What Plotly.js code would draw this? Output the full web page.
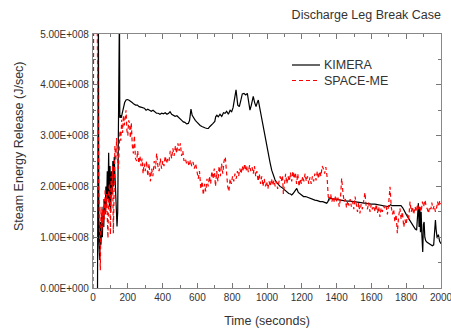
<!DOCTYPE html>
<html>
<head>
<meta charset="utf-8">
<script src="https://cdn.plot.ly/plotly-3.0.1.min.js"></script>
<style>html,body{margin:0;padding:0;background:#fff;}#chart{width:451px;height:331px;}</style>
</head>
<body>
<div id="chart"></div>
<script>
// Time (seconds) and energy release in units of 1e8 J/sec
var kimeraT = [26,28,31,34,38,42,46,50,54,58,62,66,70,74,78,82,86,90,94,98,102,106,110,114,118,122,126,130,134,138,142,146,149,152,154,158,162,168,175,182,190,197,205,215,225,235,245,255,265,275,285,295,305,315,325,335,345,355,365,375,385,395,405,415,425,435,443,452,462,472,482,492,502,510,519,528,538,548,555,563,570,578,588,596,606,616,626,636,646,656,663,672,680,690,700,705,712,720,730,740,750,759,768,778,788,797,805,812,822,832,841,850,858,868,878,887,895,902,910,921,929,937,944,950,958,969,979,989,998,1008,1017,1027,1036,1046,1055,1065,1075,1085,1095,1105,1113,1125,1135,1142,1150,1160,1171,1180,1190,1199,1210,1222,1235,1247,1260,1275,1290,1305,1320,1335,1343,1350,1358,1370,1385,1400,1420,1440,1460,1480,1500,1520,1540,1560,1580,1600,1620,1640,1660,1680,1700,1710,1720,1740,1760,1770,1780,1790,1800,1810,1820,1830,1841,1852,1860,1866,1870,1874,1878,1882,1886,1890,1895,1899,1903,1907,1912,1920,1935,1950,1958,1963,1968,1972,1978,1985,1992,2000];
var kimeraE8 = [0,5.5,5.5,0.9,0.55,1.3,0.85,1.4,1.0,1.6,1.2,1.75,1.45,2.0,1.6,2.3,1.75,2.66,1.6,2.4,1.5,2.3,1.85,2.5,2.0,2.58,2.25,1.6,1.25,1.21,1.5,3.2,5.5,5.5,3.35,3.4,3.35,3.45,3.55,3.65,3.7,3.71,3.7,3.68,3.65,3.62,3.6,3.6,3.57,3.56,3.55,3.54,3.5,3.52,3.5,3.48,3.5,3.47,3.44,3.44,3.42,3.44,3.43,3.45,3.42,3.44,3.47,3.42,3.4,3.38,3.39,3.35,3.33,3.3,3.27,3.26,3.23,3.24,3.3,3.52,3.4,3.35,3.3,3.27,3.23,3.2,3.18,3.16,3.15,3.14,3.14,3.18,3.2,3.24,3.28,3.37,3.4,3.37,3.42,3.38,3.45,3.44,3.48,3.42,3.5,3.47,3.55,3.7,3.9,3.6,3.57,3.7,3.82,3.83,3.8,3.83,3.65,3.5,3.6,3.77,3.65,3.57,3.65,3.7,3.55,3.34,3.15,2.98,2.8,2.65,2.48,2.32,2.22,2.13,2.08,2.03,2.0,1.98,1.95,1.92,1.9,1.86,1.85,1.83,1.86,1.9,1.96,1.88,1.85,1.83,1.8,1.8,1.78,1.77,1.75,1.73,1.72,1.7,1.7,1.68,1.67,1.7,1.77,1.76,1.75,1.75,1.74,1.72,1.71,1.71,1.7,1.68,1.67,1.66,1.66,1.65,1.65,1.64,1.63,1.62,1.6,1.64,1.62,1.62,1.63,1.62,1.58,1.5,1.45,1.39,1.33,1.27,1.21,1.16,1.14,1.45,1.67,1.2,1.6,1.1,1.5,1.05,0.71,1.25,1.3,1.0,0.93,0.9,0.86,0.83,0.85,1.1,1.34,1.15,0.98,1.05,0.92,0.87];

var spaceT = [0,4,22,27,33,38,42,46,50,54,58,62,66,70,74,78,82,86,90,95,100,104,108,112,117,121,126,131,136,141,146,150,155,160,165,170,175,180,185,190,195,200,205,210,215,220,226,232,238,244,251,257,263,270,276,282,288,294,300,308,315,322,330,337,344,352,359,366,373,380,387,394,401,408,415,423,430,437,444,452,459,466,474,481,488,495,502,509,516,523,530,538,545,552,560,567,575,582,590,597,605,612,620,627,634,641,648,655,662,669,676,683,690,697,704,711,718,725,732,739,746,753,760,767,774,781,788,795,802,809,816,823,830,837,844,851,858,865,872,879,886,893,900,907,914,921,928,935,942,949,956,963,970,977,984,991,998,1005,1012,1019,1026,1033,1040,1047,1054,1061,1068,1075,1082,1089,1094,1100,1107,1114,1121,1128,1135,1142,1149,1156,1163,1170,1177,1184,1191,1198,1205,1212,1219,1226,1233,1240,1247,1254,1261,1268,1275,1282,1289,1296,1303,1310,1317,1324,1331,1338,1345,1352,1359,1366,1373,1380,1387,1394,1401,1408,1415,1422,1429,1436,1443,1450,1457,1464,1471,1478,1485,1492,1499,1506,1513,1520,1527,1534,1541,1548,1555,1563,1570,1577,1584,1592,1599,1606,1613,1621,1628,1635,1642,1649,1656,1663,1670,1678,1685,1692,1699,1707,1714,1721,1728,1735,1742,1749,1756,1764,1771,1778,1786,1793,1800,1807,1814,1822,1829,1836,1843,1851,1858,1865,1872,1879,1886,1893,1900,1908,1915,1922,1928,1935,1942,1947,1954,1961,1968,1975,1980,1987,1993,2000];
var spaceE8 = [0,6,6,3.8,2.0,1.0,0.35,1.6,1.1,1.55,1.2,1.75,1.35,1.95,1.5,1.85,1.3,0.98,1.9,2.05,1.05,2.2,1.8,2.4,1.08,2.3,2.8,2.5,2.95,2.55,2.35,2.7,3.1,2.9,3.31,3.05,3.4,3.2,3.45,3.5,3.1,3.0,3.3,3.24,2.95,3.25,2.8,2.65,3.0,2.55,2.5,2.7,2.45,2.6,2.4,2.55,2.25,2.45,2.3,2.5,2.2,2.45,2.1,2.35,2.2,2.5,2.35,2.65,2.4,2.3,2.55,2.35,2.5,2.4,2.6,2.45,2.55,2.5,2.7,2.55,2.75,2.6,2.8,2.65,2.85,2.7,2.85,2.6,2.7,2.5,2.55,2.45,2.5,2.4,2.52,2.4,2.48,2.35,2.45,2.3,2.15,2.3,1.95,2.1,1.83,2.05,1.9,2.15,2.0,2.2,2.05,2.3,2.15,2.35,2.0,2.3,2.1,2.4,2.2,2.45,2.25,2.5,2.58,2.3,2.0,1.9,2.15,2.05,2.2,2.1,2.25,2.15,2.3,2.2,2.35,2.25,2.4,2.3,2.45,2.3,2.4,2.28,2.42,2.3,2.38,2.25,2.4,2.2,2.3,2.1,2.25,2.05,2.2,2.0,2.15,2.0,2.1,1.95,2.1,2.0,2.15,2.02,2.12,2.0,2.1,1.95,2.05,2.2,2.1,2.22,1.85,2.1,2.25,2.05,2.2,2.1,2.27,2.1,2.3,2.15,2.28,2.05,2.25,2.0,2.15,2.05,2.2,2.1,2.25,2.1,2.2,2.05,2.18,2.05,2.2,2.1,2.25,2.12,2.3,2.15,2.3,2.2,2.4,2.35,2.25,2.38,2.2,1.8,1.72,1.85,1.7,1.8,1.68,1.82,1.7,1.78,1.6,1.75,2.16,1.9,1.7,1.75,1.58,1.72,1.62,1.75,1.6,1.7,1.55,1.8,1.6,1.5,1.68,1.47,1.65,1.55,1.7,1.88,1.6,1.55,1.68,1.5,1.65,1.55,1.62,1.5,1.65,1.48,1.6,1.4,1.58,1.5,1.62,1.55,1.6,1.45,1.65,1.99,1.6,1.45,1.55,1.3,1.45,1.08,1.4,1.57,1.35,1.5,1.2,1.35,1.25,1.45,1.35,1.7,1.5,1.6,1.45,1.6,1.5,1.65,1.55,1.6,1.5,1.7,1.6,1.73,1.6,1.55,1.47,1.6,1.55,1.68,1.55,1.62,1.5,1.58,1.7,1.6,1.72,1.65];

var seriesNames = ['KIMERA', 'SPACE-ME'];
var seriesColors = ['#000000', '#ff0000'];
var seriesDash = ['solid', '4px,3px'];
var xTicks = [0,200,400,600,800,1000,1200,1400,1600,1800,2000];
var yTickValsE8 = [0,1,2,3,4,5];
var yTickText = ['0.00E+000','1.00E+008','2.00E+008','3.00E+008','4.00E+008','5.00E+008'];
var chartTitle = 'Discharge Leg Break Case';
var xTitle = 'Time (seconds)';
var yTitle = 'Steam Energy Release (J/sec)';

var scale = 1e8;
function toJ(arr){ return arr.map(function(v){ return v*scale; }); }

var fam = 'Liberation Sans, Arial, sans-serif';
var txtColor = '#333';

var traces = [
  {x: kimeraT, y: toJ(kimeraE8), name: seriesNames[0], type: 'scatter', mode: 'lines',
   line: {color: seriesColors[0], width: 1.2, dash: seriesDash[0]}},
  {x: spaceT, y: toJ(spaceE8), name: seriesNames[1], type: 'scatter', mode: 'lines',
   line: {color: seriesColors[1], width: 1.2, dash: seriesDash[1]}}
];

var axisCommon = {
  showgrid: false, zeroline: false, showline: true, linecolor: '#888', linewidth: 1.2,
  mirror: 'allticks', ticks: 'inside', ticklen: 5, tickcolor: '#777', tickwidth: 1,
  ticklabeloverflow: 'allow',
  tickfont: {family: fam, size: 10, color: txtColor}
};

// Hand-built legend (layout decoration, paper coordinates)
var plotL = 93, plotW = 348, plotB = 288, plotH = 254;
function px(xp){ return (xp - plotL) / plotW; }
function py(yp){ return (plotB - yp) / plotH; }
var legendRows = [65, 80.5];
var shapes = [], annotations = [];
seriesNames.forEach(function(n, i){
  shapes.push({type: 'line', xref: 'paper', yref: 'paper', x0: px(292), x1: px(320),
               y0: py(legendRows[i]), y1: py(legendRows[i]),
               line: {color: seriesColors[i], width: 1.2, dash: seriesDash[i]}});
  annotations.push({text: n, xref: 'paper', yref: 'paper', x: px(322), y: py(legendRows[i]),
                    xanchor: 'left', yanchor: 'middle', showarrow: false,
                    font: {size: 12.5, color: txtColor, family: fam}});
});
annotations.push({text: yTitle, xref: 'paper', yref: 'paper', x: px(19), y: py(146),
     xanchor: 'center', yanchor: 'middle', textangle: -90, showarrow: false,
     font: {size: 12.5, color: txtColor, family: fam}});

var layout = {
  width: 451, height: 331,
  margin: {l: 93, r: 10, t: 34, b: 43},
  paper_bgcolor: '#fff', plot_bgcolor: '#fff',
  font: {family: fam, color: txtColor},
  showlegend: false,
  title: {text: chartTitle, font: {size: 12.5, color: txtColor, family: fam},
          xref: 'paper', x: 1, xanchor: 'right', yref: 'container', y: 1 - 15/331, yanchor: 'middle'},
  xaxis: Object.assign({}, axisCommon, {
    range: [0, 2000], tickvals: xTicks, ticktext: xTicks.map(String),
    minor: {ticks: 'inside', ticklen: 3, dtick: 100, tickcolor: '#777'},
    title: {text: xTitle, font: {size: 12.5, color: txtColor, family: fam}, standoff: 14}
  }),
  yaxis: Object.assign({}, axisCommon, {
    range: [0, 5*scale], tickvals: toJ(yTickValsE8), ticktext: yTickText,
    minor: {ticks: 'inside', ticklen: 3, dtick: 0.5*scale, tickcolor: '#777'},
    ticklabelstandoff: 1
  }),
  shapes: shapes,
  annotations: annotations
};

Plotly.newPlot('chart', traces, layout, {displayModeBar: false, staticPlot: true});
</script>
</body>
</html>
